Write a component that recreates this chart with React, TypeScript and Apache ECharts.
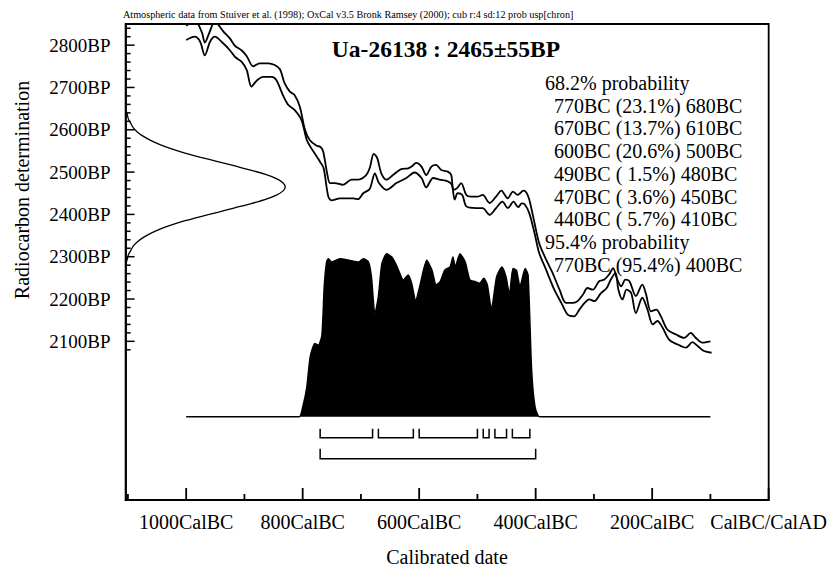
import React, { useEffect, useRef } from "react";
import * as echarts from "echarts";

const X_MIN = -1104;
const X_MAX = 0;
const Y_MIN = 1725;
const Y_MAX = 2850;
const P_MIN = -51;
const P_MAX = 241;

const FONT = '"Liberation Serif", "Times New Roman", serif';

const xLabelYears = [-1000, -800, -600, -400, -200, 0];
const xMinorTickYears = [-1100, -900, -700, -500, -300, -100];
const yLabelBP = [2100, 2200, 2300, 2400, 2500, 2600, 2700, 2800];
const yMinorTickBP = [
  2080, 2120, 2140, 2160, 2180, 2220, 2240, 2260, 2280, 2320, 2340, 2360, 2380,
  2420, 2440, 2460, 2480, 2520, 2540, 2560, 2580, 2620, 2640, 2660, 2680, 2720,
  2740, 2760, 2780, 2820, 2840,
];

// Calibration curve envelope, [year BC, BP]
const curveUpper: [number, number][] = [
  [1000, 2846], [985, 2858], [973, 2830], [968, 2806], [960, 2830], [951, 2856],
  [936, 2832], [925, 2816], [916, 2798], [905, 2788], [896, 2774], [885, 2750],
  [874, 2757], [859, 2757], [848, 2753], [839, 2743], [831, 2710], [822, 2690],
  [814, 2682], [805, 2655], [796, 2600], [788, 2576], [776, 2562], [770, 2560],
  [765, 2550], [758, 2497], [753, 2474], [745, 2474], [731, 2470], [716, 2482],
  [705, 2482], [691, 2493], [685, 2509], [678, 2543], [672, 2533], [665, 2497],
  [656, 2482], [645, 2493], [631, 2507], [619, 2509], [613, 2513], [605, 2522],
  [596, 2513], [588, 2493], [579, 2513], [571, 2517], [562, 2505], [551, 2501],
  [545, 2493], [541, 2458], [535, 2462], [528, 2474], [519, 2446], [511, 2442],
  [500, 2442], [491, 2446], [479, 2427], [468, 2442], [459, 2456], [448, 2438],
  [439, 2454], [431, 2446], [421, 2456], [416, 2452], [411, 2435], [402, 2380],
  [394, 2332], [382, 2293], [371, 2262], [359, 2222], [348, 2191], [336, 2191],
  [328, 2195], [319, 2210], [311, 2226], [302, 2222], [291, 2242], [282, 2246],
  [274, 2258], [267, 2273], [261, 2250], [253, 2230], [246, 2246], [239, 2242],
  [228, 2207], [217, 2234], [211, 2214], [202, 2171], [193, 2175], [185, 2159],
  [174, 2128], [159, 2116], [145, 2108], [134, 2120], [125, 2108], [114, 2097],
  [100, 2100],
];
const curveLower: [number, number][] = [
  [1000, 2812], [985, 2820], [976, 2808], [968, 2776], [959, 2808], [951, 2820],
  [936, 2804], [925, 2788], [916, 2772], [905, 2761], [896, 2741], [888, 2702],
  [879, 2716], [868, 2725], [853, 2725], [845, 2717], [834, 2682], [825, 2659],
  [814, 2647], [802, 2623], [793, 2576], [785, 2556], [776, 2537], [770, 2524],
  [764, 2509], [756, 2442], [750, 2433], [736, 2438], [713, 2438], [705, 2436],
  [696, 2450], [685, 2460], [676, 2497], [669, 2474], [656, 2458], [639, 2474],
  [622, 2486], [608, 2499], [596, 2486], [588, 2464], [576, 2486], [565, 2482],
  [551, 2478], [544, 2470], [539, 2435], [534, 2450], [526, 2446], [519, 2419],
  [502, 2415], [491, 2415], [479, 2399], [468, 2415], [457, 2430], [448, 2415],
  [438, 2430], [430, 2417], [424, 2426], [419, 2424], [411, 2403], [402, 2356],
  [394, 2309], [382, 2269], [368, 2222], [356, 2191], [345, 2163], [334, 2159],
  [325, 2175], [316, 2191], [308, 2199], [299, 2195], [288, 2214], [278, 2226],
  [271, 2246], [263, 2262], [258, 2222], [251, 2199], [244, 2222], [236, 2214],
  [228, 2167], [217, 2203], [208, 2175], [199, 2140], [191, 2148], [182, 2132],
  [171, 2104], [157, 2093], [142, 2085], [131, 2098], [122, 2089], [111, 2077],
  [98, 2073],
];

// Radiocarbon date distribution (drawn along the BP axis), width in years
const gaussBP = [
  2285, 2295, 2305, 2315, 2325, 2335, 2345, 2355, 2365, 2375, 2385, 2395, 2405,
  2415, 2425, 2435, 2445, 2455, 2465, 2475, 2485, 2495, 2505, 2515, 2525, 2535,
  2545, 2555, 2565, 2575, 2585, 2595, 2605, 2615, 2625, 2635, 2645,
];
const gaussWidth = [
  1, 3, 5, 9, 13, 20, 30, 43, 59, 79, 102, 129, 158, 186, 214, 239, 258, 270,
  274, 270, 258, 239, 214, 186, 158, 129, 102, 79, 59, 43, 30, 20, 13, 9, 5, 3, 1,
];

// Calibrated probability distribution (percent of max)
const distBC = [
  1000, 806, 800, 793, 787, 779, 773, 767, 763, 759, 756, 750, 736, 719, 704,
  696, 687, 682, 676, 670, 664, 656, 647, 639, 627, 619, 613, 606, 599, 587,
  578, 571, 564, 556, 547, 542, 538, 530, 521, 513, 504, 496, 489, 483, 476,
  467, 458, 451, 445, 439, 433, 427, 418, 413, 407, 401, 393, 100,
];
const distProb = [
  0, 0, 6, 18, 37, 45, 44, 50, 80, 95, 97, 95, 97, 96, 95,
  97, 95, 86, 63, 74, 94, 100, 98, 93, 84, 87, 82, 71, 80, 96,
  90, 81, 83, 90, 92, 98, 92, 100, 95, 84, 83, 82, 85, 81, 66,
  86, 92, 86, 75, 91, 90, 80, 91, 87, 29, 6, 0, 0,
];

const ranges68: [number, number][] = [
  [770, 680], [670, 610], [600, 500], [490, 480], [470, 450], [440, 410],
];
const ranges95: [number, number][] = [[770, 400]];

const captionText =
  "Atmospheric data from Stuiver et al. (1998); OxCal v3.5 Bronk Ramsey (2000); cub r:4 sd:12 prob usp[chron]";
const titleText = "Ua-26138 : 2465±55BP";
const probLines: [string, boolean][] = [
  ["68.2% probability", false],
  ["770BC (23.1%) 680BC", true],
  ["670BC (13.7%) 610BC", true],
  ["600BC (20.6%) 500BC", true],
  ["490BC ( 1.5%) 480BC", true],
  ["470BC ( 3.6%) 450BC", true],
  ["440BC ( 5.7%) 410BC", true],
  ["95.4% probability", false],
  ["770BC (95.4%) 400BC", true],
];

function txt(x: number, y: number, text: string, font: string, align: string, extra: any = {}) {
  return {
    type: "text",
    x,
    y,
    ...extra,
    style: {
      text,
      font,
      fill: "#000",
      align,
      verticalAlign: "middle",
      textAlign: align,
      textVerticalAlign: "middle",
    },
  };
}

export default function App() {
  const ref = useRef<HTMLDivElement>(null);

  useEffect(() => {
    if (!ref.current) return;
    const chart = echarts.init(ref.current, undefined, { renderer: "svg" });

    const bracketData = [
      ...ranges68.map((r) => [-r[0], -r[1], 0]),
      ...ranges95.map((r) => [-r[0], -r[1], 1]),
    ];
    // [x, y, orientation (0 = x-axis tick, 1 = y-axis tick), major flag]
    const tickData = [
      ...xLabelYears.map((v) => [v, Y_MIN, 0, 1]),
      ...xMinorTickYears.map((v) => [v, Y_MIN, 0, 0]),
      ...yLabelBP.map((v) => [X_MIN, v, 1, 1]),
      ...yMinorTickBP.map((v) => [X_MIN, v, 1, 0]),
    ];

    const textEls: any[] = [
      txt(123, 14, captionText, `10.2px ${FONT}`, "left"),
      txt(446, 49, titleText, `bold 23.5px ${FONT}`, "center"),
      txt(22, 190, "Radiocarbon determination", `20px ${FONT}`, "center", {
        rotation: Math.PI / 2,
      }),
      txt(447, 557, "Calibrated date", `20px ${FONT}`, "center"),
      ...probLines.map(([t, indent], i) =>
        txt(indent ? 554 : 545, 83 + i * 22.7, t, `20px ${FONT}`, "left")
      ),
    ];

    const option: any = {
      animation: false,
      backgroundColor: "#fff",
      textStyle: { fontFamily: FONT },
      grid: {
        left: 125.6,
        right: 60.4,
        top: 24,
        bottom: 71,
        show: true,
        borderColor: "#000",
        borderWidth: 1.8,
        backgroundColor: "transparent",
      },
      xAxis: [
        {
          type: "value",
          min: X_MIN,
          max: X_MAX,
          position: "bottom",
          splitLine: { show: false },
          axisLine: { show: true, onZero: false, lineStyle: { color: "#000", width: 1.8 } },
          axisTick: { show: false },
          axisLabel: {
            show: true,
            customValues: xLabelYears,
            margin: 12,
            fontSize: 20,
            fontFamily: FONT,
            color: "#000",
            formatter: (v: number) => (v === 0 ? "CalBC/CalAD" : `${-v}CalBC`),
          },
        },
      ],
      yAxis: [
        {
          type: "value",
          min: Y_MIN,
          max: Y_MAX,
          position: "left",
          splitLine: { show: false },
          axisLine: { show: true, onZero: false, lineStyle: { color: "#000", width: 1.8 } },
          axisTick: { show: false },
          axisLabel: {
            show: true,
            customValues: yLabelBP,
            margin: 15,
            fontSize: 19,
            fontFamily: FONT,
            color: "#000",
            formatter: (v: number) => `${v}BP`,
          },
        },
        {
          type: "value",
          min: P_MIN,
          max: P_MAX,
          position: "right",
          show: false,
          axisLine: { onZero: false },
          splitLine: { show: false },
        },
      ],
      graphic: textEls,
      series: [
        {
          type: "line",
          name: "gauss",
          xAxisIndex: 0,
          yAxisIndex: 0,
          data: gaussBP.map((bp, i) => [X_MIN + gaussWidth[i], bp]),
          symbol: "none",
          smooth: 0.3,
          lineStyle: { color: "#000", width: 1.3 },
          silent: true,
        },
        {
          type: "line",
          name: "upper",
          xAxisIndex: 0,
          yAxisIndex: 0,
          data: curveUpper.map(([bc, bp]) => [-bc, bp]),
          symbol: "none",
          smooth: 0.3,
          clip: true,
          lineStyle: { color: "#000", width: 1.8 },
          silent: true,
        },
        {
          type: "line",
          name: "lower",
          xAxisIndex: 0,
          yAxisIndex: 0,
          data: curveLower.map(([bc, bp]) => [-bc, bp]),
          symbol: "none",
          smooth: 0.3,
          clip: true,
          lineStyle: { color: "#000", width: 1.8 },
          silent: true,
        },
        {
          type: "line",
          name: "dist",
          xAxisIndex: 0,
          yAxisIndex: 1,
          data: distBC.map((bc, i) => [-bc, distProb[i]]),
          symbol: "none",
          smooth: 0.2,
          lineStyle: { color: "#000", width: 1.5 },
          areaStyle: { color: "#000", opacity: 1 },
          silent: true,
        },
        {
          type: "custom",
          name: "ranges",
          xAxisIndex: 0,
          yAxisIndex: 1,
          coordinateSystem: "cartesian2d",
          data: bracketData,
          encode: { x: [0, 1], y: 2 },
          silent: true,
          renderItem: (params: any, api: any) => {
            const p1 = api.coord([api.value(0), 0]);
            const p2 = api.coord([api.value(1), 0]);
            const level = api.value(2);
            const top = p1[1] + (level === 0 ? 12 : 32);
            const bot = top + (level === 0 ? 9 : 10);
            return {
              type: "polyline",
              shape: {
                points: [
                  [p1[0], top],
                  [p1[0], bot],
                  [p2[0], bot],
                  [p2[0], top],
                ],
              },
              style: { stroke: "#000", lineWidth: 1.5, fill: null },
            };
          },
        },
        {
          type: "custom",
          name: "ticks",
          xAxisIndex: 0,
          yAxisIndex: 0,
          coordinateSystem: "cartesian2d",
          data: tickData,
          encode: { x: 0, y: 1 },
          silent: true,
          z: 5,
          renderItem: (params: any, api: any) => {
            const p = api.coord([api.value(0), api.value(1)]);
            const isY = api.value(2) === 1;
            const major = api.value(3) === 1;
            if (isY) {
              const len = major ? 9 : 5;
              return {
                type: "polyline",
                shape: { points: [[p[0], p[1]], [p[0] + len, p[1]]] },
                style: { stroke: "#000", lineWidth: 1.5, fill: null },
              };
            }
            const len = major ? 12 : 6;
            return {
              type: "polyline",
              shape: { points: [[p[0], p[1]], [p[0], p[1] - len]] },
              style: { stroke: "#000", lineWidth: 1.8, fill: null },
            };
          },
        },
      ],
    };

    chart.setOption(option);

    return () => {
      chart.dispose();
    };
  }, []);

  return (
    <div
      ref={ref}
      style={{
        position: "absolute",
        left: 0,
        top: 0,
        width: 830,
        height: 571,
        background: "#fff",
      }}
    />
  );
}
